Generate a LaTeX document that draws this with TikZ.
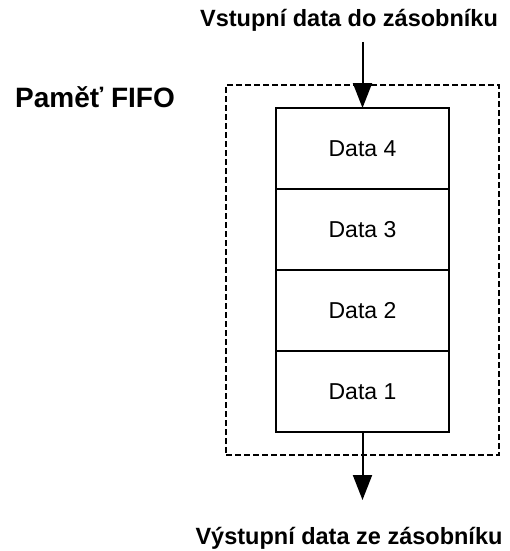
\documentclass[tikz,border=0pt]{standalone}
\usepackage{fontspec}
\setmainfont{Liberation Sans}
\usetikzlibrary{positioning,fit,arrows.meta}
\tikzset{
  bunka/.style={draw, line width=2pt, outer sep=0pt, minimum width=173pt, minimum height=81pt, inner sep=0pt, font=\fontsize{23}{27}\selectfont},
  popis/.style={font=\bfseries\fontsize{23.5}{27}\selectfont},
  sipka/.style={line width=2pt, -{Triangle[length=25pt,width=19pt]}}
}
\begin{document}
\begin{tikzpicture}[x=1pt,y=-1pt]
\useasboundingbox (0,0) rectangle (509,551);
% zasobnik
\node[bunka] (d4) at (362.5,148.5) {Data 4};
\node[bunka, below=0pt of d4] (d3) {Data 3};
\node[bunka, below=0pt of d3] (d2) {Data 2};
\node[bunka, below=0pt of d2] (d1) {Data 1};
% pamet
\node[draw, dash pattern=on 6pt off 3pt, line width=2pt, inner xsep=50pt, inner ysep=23pt, fit=(d4)(d1)] (fifo) {};
\node[font=\bfseries\fontsize{28}{32}\selectfont] (pamet) at (95,97) {Paměť FIFO};
% vstup a vystup
\node[popis] (vstup) at (349,20) {Vstupní data do zásobníku};
\node[popis] (vystup) at (349,538) {Výstupní data ze zásobníku};
\coordinate (in) at (362.5,42);
\coordinate (out) at (362.5,500);
\draw[sipka] (in) -- (d4.north);
\draw[sipka] (d1.south) -- (out);
\end{tikzpicture}
\end{document}
